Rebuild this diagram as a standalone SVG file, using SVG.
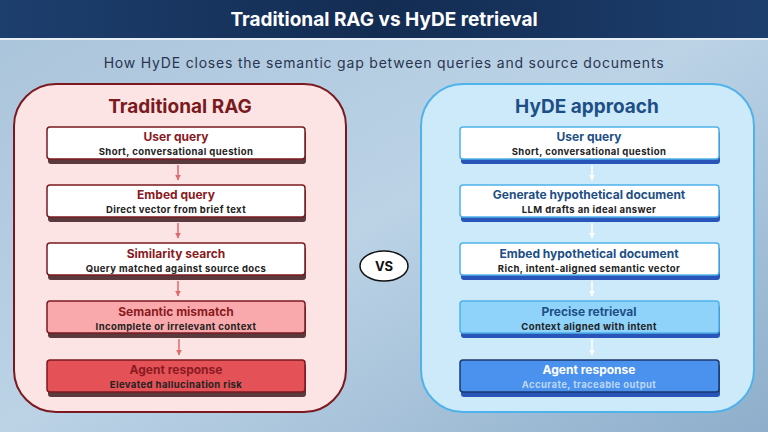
<svg xmlns="http://www.w3.org/2000/svg" width="768" height="432" viewBox="0 0 768 432">
<defs>
<linearGradient id="bg" x1="0" y1="0" x2="1" y2="1"><stop offset="0" stop-color="#a9c3da"/><stop offset="0.5" stop-color="#bcd3e6"/><stop offset="1" stop-color="#8eaecb"/></linearGradient>
<linearGradient id="tb" x1="0" y1="0" x2="1" y2="0"><stop offset="0" stop-color="#1d3f6e"/><stop offset="0.5" stop-color="#132c52"/><stop offset="1" stop-color="#1d3f6e"/></linearGradient>
<marker id="ar" viewBox="0 0 10 10" refX="9" refY="5" markerWidth="4" markerHeight="4" orient="auto"><path d="M0,0L10,5L0,10z" fill="#e06a72"/></marker>
<marker id="aw" viewBox="0 0 10 10" refX="9" refY="5" markerWidth="4" markerHeight="4" orient="auto"><path d="M0,0L10,5L0,10z" fill="#ffffff"/></marker>
</defs>
<style>
text{font-family:Inter,"Liberation Sans",sans-serif;text-anchor:middle}
.t{font-size:12px;font-weight:700}
.s{font-size:9.5px;font-weight:700;fill:#222;letter-spacing:0.4px}
.rt{fill:#8a1a22}
.bt{fill:#1d4f86}
.rb{stroke:#7a1a20;stroke-width:1.5}
.bb{stroke:#4fb2ea;stroke-width:1.5}
</style>
<rect width="768" height="432" fill="url(#bg)"/>
<rect x="0" y="0" width="768" height="38" fill="url(#tb)"/>
<rect x="0" y="38" width="768" height="2" fill="#e8eef5"/>
<text x="384" y="26" style="font-size:19px;font-weight:700;fill:#fff">Traditional RAG vs HyDE retrieval</text>
<text x="384" y="68" style="font-size:14px;fill:#2a3550;letter-spacing:0.8px">How HyDE closes the semantic gap between queries and source documents</text>

<g id="left-panel">
<rect x="14" y="84" width="332" height="328" rx="42" fill="#fde4e4" stroke="#7a1a20" stroke-width="2"/>
<text x="180" y="113" style="font-size:19px;font-weight:700;fill:#7a1a20">Traditional RAG</text>
</g>
<g id="right-panel">
<rect x="421" y="84" width="333" height="328" rx="42" fill="#cdeafb" stroke="#4fb2ea" stroke-width="2"/>
<text x="587" y="113" style="font-size:19px;font-weight:700;fill:#1d4f86">HyDE approach</text>
</g>

<g id="connectors">
<line x1="178" y1="165" x2="178" y2="180" stroke="#e06a72" stroke-width="1.5" marker-end="url(#ar)"/>
<line x1="178" y1="223" x2="178" y2="238" stroke="#e06a72" stroke-width="1.5" marker-end="url(#ar)"/>
<line x1="178" y1="281" x2="178" y2="296" stroke="#e06a72" stroke-width="1.5" marker-end="url(#ar)"/>
<line x1="179" y1="339" x2="179" y2="355" stroke="#e06a72" stroke-width="1.5" marker-end="url(#ar)"/>
<line x1="592" y1="165" x2="592" y2="180" stroke="#fff" stroke-width="1.5" marker-end="url(#aw)"/>
<line x1="592" y1="223" x2="592" y2="238" stroke="#fff" stroke-width="1.5" marker-end="url(#aw)"/>
<line x1="592" y1="281" x2="592" y2="296" stroke="#fff" stroke-width="1.5" marker-end="url(#aw)"/>
<line x1="592" y1="339" x2="592" y2="355" stroke="#fff" stroke-width="1.5" marker-end="url(#aw)"/>
</g>

<g id="l1"><rect x="48" y="131" width="258" height="33" rx="3" fill="#5a3a3c"/><rect x="47" y="127" width="258" height="32" rx="3" fill="#fff" class="rb"/><text x="176" y="141" class="t rt">User query</text><text x="176" y="155" class="s">Short, conversational question</text></g>
<g id="l2"><rect x="48" y="189" width="258" height="33" rx="3" fill="#5a3a3c"/><rect x="47" y="185" width="258" height="32" rx="3" fill="#fff" class="rb"/><text x="176" y="199" class="t rt">Embed query</text><text x="176" y="213" class="s">Direct vector from brief text</text></g>
<g id="l3"><rect x="48" y="247" width="258" height="33" rx="3" fill="#5a3a3c"/><rect x="47" y="243" width="258" height="32" rx="3" fill="#fff" class="rb"/><text x="176" y="258" class="t rt">Similarity search</text><text x="176" y="272" class="s">Query matched against source docs</text></g>
<g id="l4"><rect x="48" y="305" width="258" height="33" rx="3" fill="#5a3a3c"/><rect x="47" y="301" width="258" height="32" rx="3" fill="#f9a9ab" class="rb"/><text x="176" y="316" class="t rt">Semantic mismatch</text><text x="176" y="330" class="s">Incomplete or irrelevant context</text></g>
<g id="l5"><rect x="48" y="364" width="258" height="33" rx="3" fill="#5a3a3c"/><rect x="47" y="360" width="258" height="32" rx="3" fill="#e45257" class="rb"/><text x="176" y="374" class="t rt">Agent response</text><text x="176" y="388" class="s">Elevated hallucination risk</text></g>

<g id="r1"><rect x="461" y="131" width="259" height="33" rx="3" fill="#2a55b8"/><rect x="460" y="127" width="259" height="32" rx="3" fill="#fff" class="bb"/><text x="589" y="141" class="t bt">User query</text><text x="589" y="155" class="s">Short, conversational question</text></g>
<g id="r2"><rect x="461" y="189" width="259" height="33" rx="3" fill="#2a55b8"/><rect x="460" y="185" width="259" height="32" rx="3" fill="#fff" class="bb"/><text x="589" y="199" class="t bt">Generate hypothetical document</text><text x="589" y="213" class="s">LLM drafts an ideal answer</text></g>
<g id="r3"><rect x="461" y="247" width="259" height="33" rx="3" fill="#2a55b8"/><rect x="460" y="243" width="259" height="32" rx="3" fill="#fff" class="bb"/><text x="589" y="258" class="t bt">Embed hypothetical document</text><text x="589" y="272" class="s">Rich, intent-aligned semantic vector</text></g>
<g id="r4"><rect x="461" y="305" width="259" height="33" rx="3" fill="#2a55b8"/><rect x="460" y="301" width="259" height="32" rx="3" fill="#8fd3fa" class="bb"/><text x="589" y="316" class="t bt">Precise retrieval</text><text x="589" y="330" class="s">Context aligned with intent</text></g>
<g id="r5"><rect x="461" y="364" width="259" height="33" rx="3" fill="#2a55b8"/><rect x="460" y="360" width="259" height="32" rx="3" fill="#4b91ee" stroke="#1a3a70" stroke-width="1.5"/><text x="589" y="374" class="t" fill="#fff">Agent response</text><text x="589" y="388" class="s" style="fill:#bcd8f8">Accurate, traceable output</text></g>

<g id="vs"><ellipse cx="384" cy="266" rx="24" ry="15" fill="#fff" stroke="#111" stroke-width="1.5"/><text x="384" y="271" style="font-size:13px;font-weight:700;fill:#111">VS</text></g>
</svg>
